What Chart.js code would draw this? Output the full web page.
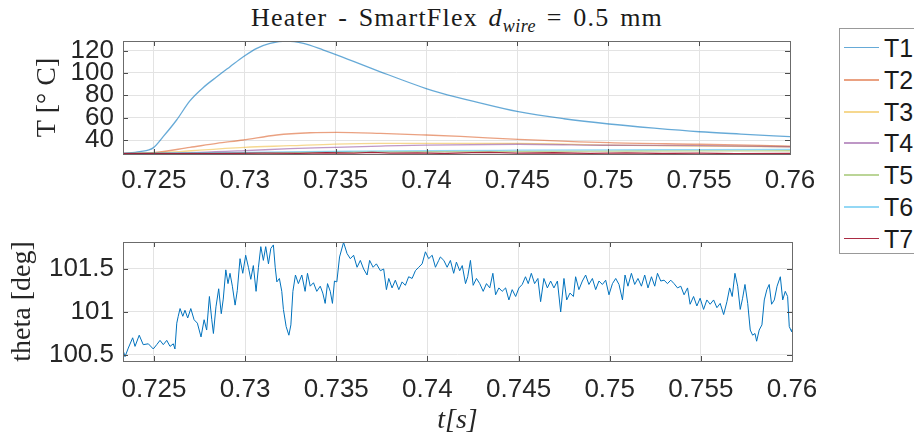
<!DOCTYPE html>
<html>
<head>
<meta charset="utf-8">
<script src="https://cdn.jsdelivr.net/npm/chart.js@4"></script>
<style>
    body { margin: 0; background: #fff; width: 914px; height: 438px; overflow: hidden; position: relative; }
    canvas { position: absolute; left: 0; }
    #title {
        position: absolute; left: 0; width: 914px; top: 1px; text-align: center;
        font-family: 'Liberation Serif', serif; font-size: 26px; color: #1a1a1a; line-height: 34px;
        letter-spacing: 1.2px; word-spacing: 3px;
    }
    #title sub { font-size: 18px; vertical-align: -6px; line-height: 0; letter-spacing: 0.5px; }
    #legend {
        position: absolute; left: 839px; top: 28px; width: 74px; height: 224px;
        border: 1px solid #999; background: #fff; box-sizing: content-box;
    }
    .item { position: absolute; left: 0; height: 32px; width: 74px; }
    .item span.line { position: absolute; left: 4px; top: 15px; width: 35px; }
    .item span.txt {
        position: absolute; left: 44px; top: 1px; font-family: 'Liberation Sans', Arial, sans-serif;
        font-size: 25px; color: #1a1a1a; line-height: 30px;
    }
</style>
</head>
<body>
<div id="title">Heater - SmartFlex <i>d</i><sub><i>wire</i></sub> = 0.5 mm</div>
<canvas id="tempChart" width="914" height="200" style="top:0"></canvas>
<canvas id="thetaChart" width="914" height="228" style="top:210px"></canvas>
<div id="legend"></div>

<script>
// Heater SmartFlex - temperatures and angle vs time

// tick labels
const timeTicks = [0.725, 0.73, 0.735, 0.74, 0.745, 0.75, 0.755, 0.76];
const tempTicks = [40, 60, 80, 100, 120];
const thetaTicks = [100.5, 101, 101.5];

// series names and colours
const seriesNames = ['T1', 'T2', 'T3', 'T4', 'T5', 'T6', 'T7'];
const seriesColors = [
    'rgba(0,114,189,0.6)', 'rgba(217,83,25,0.55)', 'rgba(237,177,32,0.5)',
    'rgba(126,47,142,0.5)', 'rgba(119,172,48,0.5)', 'rgba(77,190,238,0.6)', 'rgba(162,20,47,0.9)'
];

// [t (s), T (deg C)]
const T1 = [
    [0.72329, 28.0], [0.72423, 29.6], [0.72496, 33.0], [0.72551, 43.0], [0.72625, 57.9],
    [0.72698, 75.0], [0.72772, 87.0], [0.72846, 96.5], [0.72919, 105.5], [0.72992, 114.4],
    [0.73066, 121.9], [0.73139, 126.3], [0.73231, 128.5], [0.73323, 126.3], [0.73433, 120.4],
    [0.73516, 115.5], [0.73746, 101.0], [0.73998, 86.0], [0.74076, 82.2], [0.74260, 74.5],
    [0.74505, 65.3], [0.74756, 59.0], [0.75004, 54.3], [0.75252, 50.6], [0.75502, 47.4],
    [0.75730, 45.3], [0.76000, 43.0]
];
const T2 = [
    [0.72329, 28.0], [0.72496, 28.7], [0.72698, 33.4], [0.72846, 37.0], [0.72992, 40.0],
    [0.73176, 44.5], [0.73360, 46.5], [0.73507, 46.9], [0.73746, 46.0], [0.73998, 44.5],
    [0.74188, 43.2], [0.74505, 40.6], [0.75004, 37.6], [0.75502, 36.2], [0.76000, 34.6]
];
const T3 = [
    [0.72329, 28.0], [0.72643, 29.6], [0.72753, 31.0], [0.73001, 33.5], [0.73249, 34.9],
    [0.73497, 36.4], [0.73746, 37.0], [0.73998, 37.0], [0.74505, 37.0], [0.75004, 35.5],
    [0.75502, 34.6], [0.76000, 34.0]
];
const T4 = [
    [0.72329, 28.0], [0.72753, 29.0], [0.73001, 30.5], [0.73249, 32.3], [0.73497, 33.5],
    [0.73746, 34.6], [0.73998, 35.5], [0.74505, 36.2], [0.75004, 35.3], [0.75502, 35.0],
    [0.76000, 34.0]
];
const T5 = [
    [0.72329, 27.8], [0.728, 28.2], [0.732, 28.8], [0.736, 29.3], [0.740, 29.6],
    [0.745, 29.9], [0.750, 30.1], [0.755, 30.3], [0.760, 30.4]
];
const T6 = [
    [0.72329, 28.0], [0.728, 28.6], [0.732, 29.4], [0.736, 30.0], [0.740, 30.5],
    [0.745, 30.9], [0.750, 31.2], [0.755, 31.4], [0.760, 31.6]
];
const T7 = [
    [0.72329, 27.9], [0.726, 27.8], [0.729, 28.0], [0.731, 28.3], [0.733, 28.1],
    [0.7345, 28.6], [0.736, 28.2], [0.737, 28.9], [0.738, 28.3], [0.7395, 28.5],
    [0.741, 28.0], [0.7425, 28.8], [0.7435, 29.0], [0.745, 28.2], [0.747, 28.6],
    [0.749, 28.1], [0.751, 28.5], [0.753, 28.0], [0.755, 28.3], [0.757, 27.9], [0.760, 28.1]
];
const tempSeries = [T1, T2, T3, T4, T5, T6, T7];

// [t (s), theta (deg)]
const theta = [
    [0.72330, 100.56], [0.72341, 100.48], [0.72359, 100.58], [0.72383, 100.70], [0.72396, 100.60],
    [0.72419, 100.73], [0.72441, 100.62], [0.72469, 100.63], [0.72496, 100.57], [0.72515, 100.62],
    [0.72533, 100.67], [0.72551, 100.62], [0.72570, 100.67], [0.72588, 100.60], [0.72606, 100.63],
    [0.72615, 100.57], [0.72625, 100.87], [0.72633, 100.95], [0.72643, 101.04], [0.72658, 100.95],
    [0.72670, 101.02], [0.72685, 100.93], [0.72702, 101.04], [0.72720, 100.91], [0.72738, 100.87],
    [0.72758, 100.71], [0.72775, 100.91], [0.72789, 100.79], [0.72804, 101.18], [0.72817, 100.91],
    [0.72826, 100.75], [0.72840, 101.06], [0.72855, 101.27], [0.72869, 100.98], [0.72880, 101.15],
    [0.72894, 101.49], [0.72906, 101.33], [0.72917, 101.45], [0.72930, 101.30], [0.72945, 101.08],
    [0.72957, 101.25], [0.72972, 101.62], [0.72987, 101.45], [0.73003, 101.66], [0.73018, 101.52],
    [0.73031, 101.38], [0.73045, 101.54], [0.73060, 101.24], [0.73073, 101.52], [0.73086, 101.76],
    [0.73100, 101.60], [0.73113, 101.76], [0.73128, 101.56], [0.73141, 101.74], [0.73155, 101.78],
    [0.73165, 101.52], [0.73174, 101.35], [0.73188, 101.39], [0.73201, 101.24], [0.73210, 101.03],
    [0.73225, 100.83], [0.73240, 100.73], [0.73251, 100.85], [0.73262, 101.24], [0.73276, 101.43],
    [0.73292, 101.33], [0.73311, 101.43], [0.73329, 101.24], [0.73342, 101.45], [0.73357, 101.30],
    [0.73375, 101.34], [0.73393, 101.24], [0.73412, 101.30], [0.73426, 101.22], [0.73439, 101.10],
    [0.73452, 101.33], [0.73467, 101.24], [0.73479, 101.10], [0.73490, 101.36], [0.73503, 101.35],
    [0.73518, 101.64], [0.73540, 101.81], [0.73559, 101.68], [0.73577, 101.62], [0.73595, 101.66],
    [0.73614, 101.52], [0.73632, 101.60], [0.73650, 101.50], [0.73669, 101.43], [0.73683, 101.60],
    [0.73702, 101.52], [0.73720, 101.56], [0.73742, 101.48], [0.73760, 101.50], [0.73775, 101.26],
    [0.73788, 101.39], [0.73806, 101.28], [0.73824, 101.37], [0.73843, 101.26], [0.73861, 101.35],
    [0.73879, 101.31], [0.73897, 101.41], [0.73916, 101.39], [0.73934, 101.48], [0.73952, 101.52],
    [0.73971, 101.56], [0.73989, 101.70], [0.74007, 101.62], [0.74026, 101.66], [0.74044, 101.52],
    [0.74062, 101.60], [0.74071, 101.64], [0.74090, 101.60], [0.74108, 101.52], [0.74126, 101.60],
    [0.74144, 101.45], [0.74159, 101.58], [0.74177, 101.48], [0.74191, 101.54], [0.74209, 101.33],
    [0.74221, 101.41], [0.74236, 101.60], [0.74251, 101.31], [0.74269, 101.39], [0.74287, 101.33],
    [0.74306, 101.24], [0.74324, 101.33], [0.74342, 101.28], [0.74359, 101.45], [0.74374, 101.20],
    [0.74392, 101.28], [0.74410, 101.24], [0.74429, 101.28], [0.74447, 101.14], [0.74465, 101.26],
    [0.74484, 101.18], [0.74502, 101.28], [0.74520, 101.32], [0.74538, 101.41], [0.74553, 101.33],
    [0.74570, 101.45], [0.74588, 101.33], [0.74606, 101.39], [0.74621, 101.12], [0.74639, 101.39],
    [0.74658, 101.28], [0.74676, 101.36], [0.74694, 101.28], [0.74713, 101.36], [0.74731, 101.00],
    [0.74749, 101.39], [0.74764, 101.14], [0.74782, 101.22], [0.74801, 101.18], [0.74813, 101.41],
    [0.74831, 101.26], [0.74850, 101.36], [0.74868, 101.43], [0.74886, 101.32], [0.74905, 101.39],
    [0.74923, 101.26], [0.74941, 101.36], [0.74960, 101.32], [0.74978, 101.37], [0.74996, 101.20],
    [0.75015, 101.33], [0.75033, 101.39], [0.75051, 101.32], [0.75070, 101.14], [0.75084, 101.43],
    [0.75100, 101.30], [0.75119, 101.45], [0.75137, 101.32], [0.75155, 101.39], [0.75174, 101.30],
    [0.75192, 101.43], [0.75210, 101.28], [0.75229, 101.41], [0.75247, 101.30], [0.75262, 101.45],
    [0.75280, 101.36], [0.75298, 101.37], [0.75317, 101.33], [0.75335, 101.37], [0.75353, 101.33],
    [0.75372, 101.28], [0.75390, 101.30], [0.75408, 101.20], [0.75427, 101.28], [0.75441, 101.09],
    [0.75460, 101.18], [0.75478, 101.07], [0.75496, 101.16], [0.75515, 101.03], [0.75533, 101.14],
    [0.75551, 101.09], [0.75570, 101.14], [0.75588, 101.05], [0.75606, 101.10], [0.75625, 100.97],
    [0.75643, 101.12], [0.75658, 101.28], [0.75672, 101.18], [0.75687, 101.45], [0.75702, 101.30],
    [0.75716, 101.03], [0.75729, 101.16], [0.75742, 101.32], [0.75757, 101.10], [0.75771, 100.79],
    [0.75784, 100.73], [0.75797, 100.75], [0.75806, 100.66], [0.75820, 100.79], [0.75835, 100.85],
    [0.75848, 101.14], [0.75862, 101.26], [0.75875, 101.32], [0.75888, 101.09], [0.75903, 101.14],
    [0.75918, 101.30], [0.75936, 101.41], [0.75949, 101.14], [0.75963, 101.24], [0.75976, 101.18],
    [0.75985, 100.83], [0.75998, 100.77], [0.76000, 100.80]
];

const TICK_FONT = { family: "'Liberation Sans', Arial, sans-serif", size: 26 };
const TEXT_COLOR = '#262626';
const GRID_COLOR = '#e3e3e3';

// MATLAB style box and inward tick marks
const boxPlugin = {
    id: 'box',
    afterDraw(chart) {
        const { ctx, chartArea: a, scales } = chart;
        ctx.save();
        ctx.strokeStyle = '#4d4d4d';
        ctx.lineWidth = 1;
        ctx.beginPath();
        scales.x.ticks.forEach(t => {
            const px = Math.round(scales.x.getPixelForValue(t.value)) + 0.5;
            ctx.moveTo(px, a.top); ctx.lineTo(px, a.top + 5);
            ctx.moveTo(px, a.bottom); ctx.lineTo(px, a.bottom - 5);
        });
        scales.y.ticks.forEach(t => {
            const py = Math.round(scales.y.getPixelForValue(t.value)) + 0.5;
            ctx.moveTo(a.left, py); ctx.lineTo(a.left + 5, py);
            ctx.moveTo(a.right, py); ctx.lineTo(a.right - 5, py);
        });
        ctx.stroke();
        ctx.strokeStyle = '#6b6b6b';
        ctx.strokeRect(Math.round(a.left) + 0.5, Math.round(a.top) + 0.5,
            Math.round(a.right - a.left), Math.round(a.bottom - a.top));
        ctx.restore();
    }
};

function timeAxis(height, pad, title) {
    return {
        type: 'linear',
        min: 0.7233,
        max: 0.76,
        afterBuildTicks: scale => { scale.ticks = timeTicks.map(v => ({ value: v })); },
        afterFit: scale => { scale.height = height; },
        grid: { color: GRID_COLOR, drawTicks: false },
        border: { display: false },
        ticks: {
            font: TICK_FONT, color: TEXT_COLOR, padding: pad, maxRotation: 0, autoSkip: false,
            callback: v => String(+v.toFixed(3))
        },
        title: title
    };
}

function valueAxis(min, max, ticks, digits, title, titlePad) {
    return {
        min, max,
        afterBuildTicks: scale => { scale.ticks = ticks.map(v => ({ value: v })); },
        afterFit: scale => { scale.width = 123; },
        grid: { color: GRID_COLOR, drawTicks: false },
        border: { display: false },
        ticks: {
            font: TICK_FONT, color: TEXT_COLOR, padding: 9, autoSkip: false,
            callback: v => String(+v.toFixed(digits))
        },
        title: {
            display: true, text: title, color: TEXT_COLOR,
            font: { family: "'Liberation Serif', serif", size: 28 },
            padding: { top: titlePad, bottom: 0 }
        }
    };
}

const baseOptions = {
    responsive: false,
    animation: false,
    plugins: { legend: { display: false }, tooltip: { enabled: false } },
    elements: { point: { radius: 0 } }
};

// Temperature chart
new Chart(document.getElementById('tempChart'), {
    type: 'line',
    data: {
        datasets: tempSeries.map((s, i) => ({
            label: seriesNames[i],
            data: s.map(p => ({ x: p[0], y: p[1] })),
            borderColor: seriesColors[i],
            borderWidth: 1.3,
            cubicInterpolationMode: i < 6 ? 'monotone' : 'default',
            tension: i < 6 ? 0.4 : 0
        })).reverse()
    },
    options: {
        ...baseOptions,
        layout: { padding: { top: 41, right: 124, left: 0, bottom: 0 } },
        scales: {
            x: timeAxis(46, 11, { display: false }),
            y: valueAxis(27.5, 128.5, tempTicks, 0, 'T [° C]', 31)
        }
    },
    plugins: [boxPlugin]
});

// Angle chart
new Chart(document.getElementById('thetaChart'), {
    type: 'line',
    data: {
        datasets: [{
            label: 'theta',
            data: theta.map(p => ({ x: p[0], y: p[1] })),
            borderColor: '#0072BD',
            borderWidth: 1,
            tension: 0
        }]
    },
    options: {
        ...baseOptions,
        layout: { padding: { top: 32, right: 122, left: 0, bottom: 0 } },
        scales: {
            x: timeAxis(77, 13, {
                display: true, text: 't[s]', color: TEXT_COLOR,
                font: { family: "'Liberation Serif', serif", size: 28, style: 'italic' },
                padding: { top: 0, bottom: 1 }
            }),
            y: valueAxis(100.43, 101.814, thetaTicks, 1, 'theta [deg]', 6)
        }
    },
    plugins: [boxPlugin]
});

// Legend
const legend = document.getElementById('legend');
seriesNames.forEach((name, i) => {
    const item = document.createElement('div');
    item.className = 'item';
    item.style.top = (3 + i * 31.8) + 'px';
    item.innerHTML = `<span class="line" style="border-top:${i === 0 || i === 6 ? 1.5 : 2}px solid ${seriesColors[i]}"></span>` +
        `<span class="txt">${name}</span>`;
    legend.appendChild(item);
});
</script>
</body>
</html>
